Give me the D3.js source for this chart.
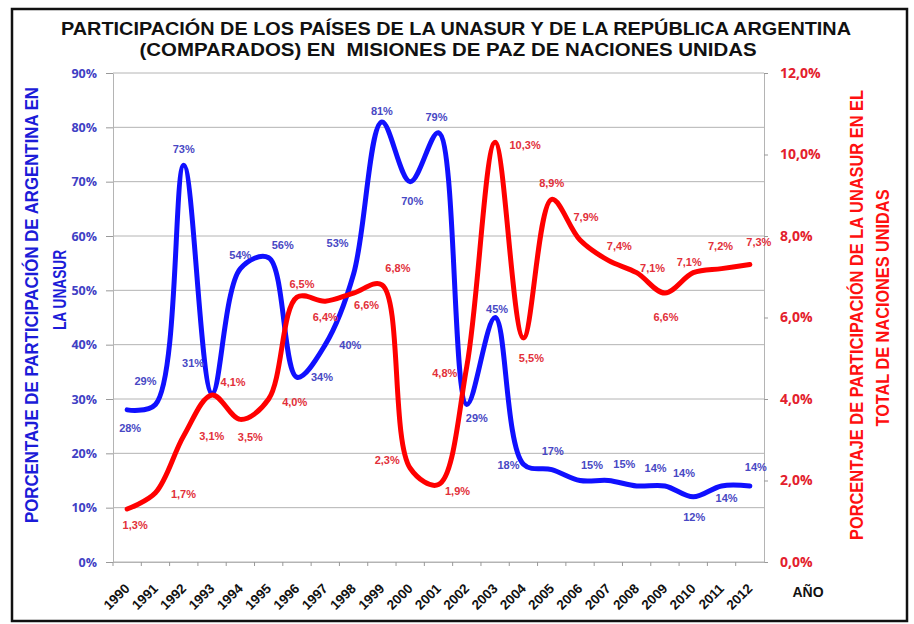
<!DOCTYPE html>
<html>
<head>
<meta charset="utf-8">
<script src="https://cdn.jsdelivr.net/npm/d3@7"></script>
<style>
  body { margin: 0; background: #fff; }
  svg text { font-family: "Liberation Sans", Arial, sans-serif; }
</style>
</head>
<body>
<svg id="chart" width="914" height="624"></svg>
<script>
// years on the category axis
var years = ["1990","1991","1992","1993","1994","1995","1996","1997","1998","1999","2000",
	"2001","2002","2003","2004","2005","2006","2007","2008","2009","2010","2011","2012"];

// % of Argentina inside UNASUR (left axis)
var argentina = [0.28,0.29,0.73,0.31,0.54,0.56,0.34,0.40,0.53,0.81,0.70,
	0.79,0.29,0.45,0.18,0.17,0.15,0.15,0.14,0.14,0.12,0.14,0.14];

// % of UNASUR in total UN missions (right axis)
var unasur = [0.013,0.017,0.031,0.041,0.035,0.040,0.065,0.064,0.066,0.068,0.023,
	0.019,0.048,0.103,0.055,0.089,0.079,0.074,0.071,0.066,0.071,0.072,0.073];

var leftTicks = [0,0.1,0.2,0.3,0.4,0.5,0.6,0.7,0.8,0.9];
var rightTicks = [0,0.02,0.04,0.06,0.08,0.10,0.12];

// label nudges (px) so the labels sit roughly where the original has them
var blueOff = [[3,18],[-10,-23],[0,-16],[-19,-30],[0,-13],[14,-13],[25,0],[25,0],[-16,-31],[0,-11],[2,19],
	[-2,-16],[10,14],[2,-8],[-15,1],[1,-18],[12,-15],[16,-16],[19,-18],[19,-13],[1,20],[5,12],[6,-19]];
var redOff = [[8,16],[28,1],[28,0],[21,-13],[10,18],[26,3],[5,-13],[0,16],[13,12],[16,-17],[-23,-8],
	[19,7],[-22,7],[30,3],[8,20],[0,-16],[6,-23],[11,-14],[16,-5],[1,24],[-4,-11],[-1,-22],[9,-22]];

var svg = d3.select("#chart");

var pLeft = 113, pRight = 764, pTop = 73, pBottom = 562;

var x = d3.scaleBand().domain(years).range([pLeft, pRight]).padding(0);
var yL = d3.scaleLinear().domain([0, 0.9]).range([pBottom, pTop]);
var yR = d3.scaleLinear().domain([0, 0.12]).range([pBottom, pTop]);

var es = d3.formatLocale({decimal: ",", thousands: ".", grouping: [3], currency: ["", "€"]});
var fmtL = d3.format(".0%"), fmtR = es.format(".1%");

function cx(i) { return x(years[i]) + x.bandwidth() / 2; }

// frame
svg.append("rect")
	.attr("x", 12).attr("y", 9).attr("width", 895).attr("height", 612)
	.attr("fill", "none").attr("stroke", "#111").attr("stroke-width", 2.5);

// title
svg.append("text").attr("x", 456).attr("y", 35).attr("text-anchor", "middle")
	.attr("font-size", 19).attr("font-weight", "bold").attr("fill", "#111")
	.attr("textLength", 790).attr("lengthAdjust", "spacingAndGlyphs")
	.text("PARTICIPACIÓN DE LOS PAÍSES DE LA UNASUR Y DE LA REPÚBLICA ARGENTINA");
svg.append("text").attr("x", 448).attr("y", 56).attr("text-anchor", "middle")
	.attr("font-size", 19).attr("font-weight", "bold").attr("fill", "#111")
	.attr("textLength", 617).attr("lengthAdjust", "spacingAndGlyphs")
	.attr("xml:space", "preserve")
	.text("(COMPARADOS) EN  MISIONES DE PAZ DE NACIONES UNIDAS");

// gridlines
svg.append("g").selectAll("line").data(leftTicks).join("line")
	.attr("x1", pLeft).attr("x2", pRight)
	.attr("y1", d => yL(d)).attr("y2", d => yL(d))
	.attr("stroke", "#b4b4b4").attr("stroke-width", 1);

// left axis
var gL = svg.append("g").attr("transform", "translate(" + pLeft + ",0)")
	.call(d3.axisLeft(yL).tickValues(leftTicks).tickFormat(fmtL).tickSizeInner(7).tickSizeOuter(0).tickPadding(9));
gL.select(".domain").attr("stroke", "#b4b4b4");
gL.selectAll(".tick line").attr("stroke", "#999");
gL.selectAll(".tick text").attr("fill", "#4040c4").attr("font-size", 12.5).attr("font-weight", "bold")
	.style("font-family", "'Open Sans', sans-serif");

// right axis
var gR = svg.append("g").attr("transform", "translate(" + pRight + ",0)")
	.call(d3.axisRight(yR).tickValues(rightTicks).tickFormat(fmtR).tickSizeInner(4).tickSizeOuter(0).tickPadding(12));
gR.select(".domain").attr("stroke", "#b4b4b4");
gR.selectAll(".tick line").attr("stroke", "#999");
gR.selectAll(".tick text").attr("fill", "#e3202c").attr("font-size", 14).attr("font-weight", "bold")
	.style("font-family", "'Open Sans', sans-serif");

// bottom axis
var gX = svg.append("g").attr("transform", "translate(0," + pBottom + ")")
	.call(d3.axisBottom(x).tickSize(0).tickPadding(0));
gX.select(".domain").attr("stroke", "#b4b4b4");
gX.selectAll(".tick text")
	.attr("text-anchor", "end")
	.attr("font-size", 13.5).attr("font-weight", "bold").attr("fill", "#111")
	.attr("dy", "0.35em")
	.attr("transform", "translate(0,24) rotate(-45)");
svg.append("g").selectAll("line").data(years).join("line")
	.attr("x1", d => x(d)).attr("x2", d => x(d))
	.attr("y1", pBottom).attr("y2", pBottom + 4)
	.attr("stroke", "#999");

svg.append("text").attr("x", 808).attr("y", 597).attr("text-anchor", "middle")
	.attr("font-size", 14).attr("font-weight", "bold").attr("fill", "#111").text("AÑO");

// axis titles
var tL = svg.append("g").attr("transform", "translate(0,305) rotate(-90)");
tL.append("text").attr("x", 0).attr("y", 38).attr("text-anchor", "middle")
	.attr("font-size", 18).attr("font-weight", "bold").attr("fill", "#1c1cd8")
	.attr("textLength", 436).attr("lengthAdjust", "spacingAndGlyphs")
	.text("PORCENTAJE DE PARTICIPACIÓN DE ARGENTINA EN");
tL.append("text").attr("x", 15).attr("y", 66).attr("text-anchor", "middle")
	.attr("font-size", 18).attr("font-weight", "bold").attr("fill", "#1c1cd8")
	.attr("textLength", 80).attr("lengthAdjust", "spacingAndGlyphs")
	.text("LA UNASUR");

var tR = svg.append("g").attr("transform", "translate(0,315) rotate(-90)");
tR.append("text").attr("x", 0).attr("y", 863).attr("text-anchor", "middle")
	.attr("font-size", 18).attr("font-weight", "bold").attr("fill", "#ff1010")
	.attr("textLength", 450).attr("lengthAdjust", "spacingAndGlyphs")
	.text("PORCENTAJE DE PARTICIPACIÓN DE LA UNASUR EN EL");
tR.append("text").attr("x", 7).attr("y", 889).attr("text-anchor", "middle")
	.attr("font-size", 18).attr("font-weight", "bold").attr("fill", "#ff1010")
	.attr("textLength", 237).attr("lengthAdjust", "spacingAndGlyphs")
	.text("TOTAL DE NACIONES UNIDAS");

// lines
var lineL = d3.line().x((d, i) => cx(i)).y(d => yL(d)).curve(d3.curveCatmullRom.alpha(0.5));
var lineR = d3.line().x((d, i) => cx(i)).y(d => yR(d)).curve(d3.curveCatmullRom.alpha(0.5));

svg.append("path").datum(argentina).attr("d", lineL)
	.attr("fill", "none").attr("stroke", "#1010ff").attr("stroke-width", 5)
	.attr("stroke-linejoin", "round").attr("stroke-linecap", "round");
svg.append("path").datum(unasur).attr("d", lineR)
	.attr("fill", "none").attr("stroke", "#ff0000").attr("stroke-width", 5)
	.attr("stroke-linejoin", "round").attr("stroke-linecap", "round");

// data labels
svg.append("g").selectAll("text").data(argentina).join("text")
	.attr("x", (d, i) => cx(i) + blueOff[i][0])
	.attr("y", (d, i) => yL(d) + blueOff[i][1])
	.attr("dy", "0.35em").attr("text-anchor", "middle")
	.attr("font-size", 11).attr("font-weight", "bold").attr("fill", "#4848c4")
	.text(d => fmtL(d));

svg.append("g").selectAll("text").data(unasur).join("text")
	.attr("x", (d, i) => cx(i) + redOff[i][0])
	.attr("y", (d, i) => yR(d) + redOff[i][1])
	.attr("dy", "0.35em").attr("text-anchor", "middle")
	.attr("font-size", 11).attr("font-weight", "bold").attr("fill", "#e2303a")
	.text(d => fmtR(d));
</script>
</body>
</html>
